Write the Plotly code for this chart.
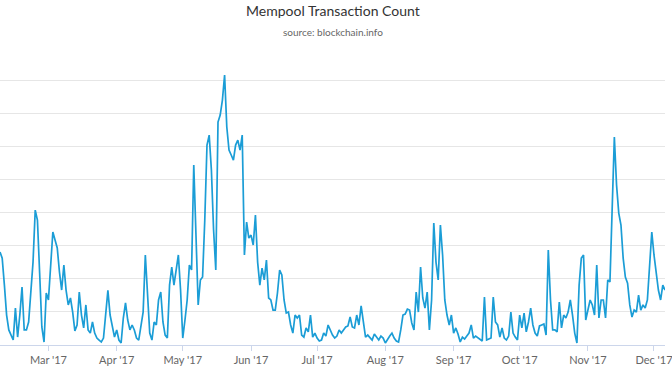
import pandas as pd
import plotly.graph_objects as go

# Mempool transaction count (thousands), one reading per day from 2017-02-07
start_date = "2017-02-07"
mempool_k = [
    56.2, 52.5, 36.2, 18.1, 9.1, 5.4, 3.0, 22.3, 4.8, 18.1,
    35.0, 9.1, 9.1, 13.9, 32.0, 50.1, 81.5, 75.5, 43.5, 10.9,
    1.8, 31.4, 27.2, 48.3, 68.3, 63.4, 58.6, 44.1, 33.2, 48.3,
    33.2, 24.2, 28.4, 19.9, 8.5, 12.1, 32.0, 18.1, 10.3, 24.2,
    9.1, 7.2, 13.9, 7.2, 4.2, 3.0, 1.8, 4.2, 18.1, 33.0,
    18.1, 12.1, 4.8, 9.1, 3.0, 1.2, 16.3, 25.4, 15.1, 9.1,
    12.1, 9.1, 4.2, 3.0, 10.3, 19.9, 54.4, 30.2, 7.2, 3.0,
    13.9, 12.1, 27.2, 32.0, 13.9, 6.0, 4.2, 36.2, 47.1, 36.2,
    45.3, 54.4, 33.2, 4.2, 15.1, 27.2, 48.3, 45.3, 108.7, 59.2,
    24.2, 39.3, 41.1, 75.5, 120.8, 126.8, 105.7, 69.5, 45.3, 134.7,
    138.9, 148.0, 163.1, 131.7, 117.8, 114.8, 111.7, 120.8, 123.8, 117.8,
    126.8, 54.4, 74.3, 64.6, 66.4, 60.4, 78.5, 50.1, 36.2, 46.5,
    39.3, 51.3, 28.4, 27.2, 21.1, 21.1, 31.4, 45.3, 42.3, 27.2,
    19.3, 19.9, 12.1, 7.2, 18.1, 16.3, 18.1, 6.0, 4.8, 10.3,
    7.9, 18.1, 4.8, 7.2, 4.2, 2.4, 3.0, 7.2, 5.4, 12.1,
    9.1, 6.0, 4.2, 5.4, 9.1, 7.2, 9.1, 10.9, 11.5, 16.9,
    10.9, 10.3, 18.1, 12.1, 23.6, 15.1, 4.8, 6.0, 4.8, 3.0,
    6.6, 4.8, 3.0, 5.4, 4.2, 1.2, 3.6, 5.4, 7.2, 4.2,
    2.4, 1.8, 9.1, 18.1, 18.7, 21.7, 21.1, 13.3, 9.1, 32.0,
    19.9, 47.1, 28.4, 22.3, 32.0, 9.1, 27.2, 73.7, 50.1, 39.3,
    72.5, 54.4, 27.2, 18.1, 12.1, 18.1, 7.2, 10.3, 6.6, 1.8,
    4.8, 3.6, 5.4, 7.2, 12.1, 4.2, 5.4, 4.2, 3.0, 2.4,
    29.0, 3.0, 3.6, 4.2, 29.0, 13.9, 12.1, 4.8, 10.3, 4.2,
    3.0, 5.4, 19.9, 7.2, 4.8, 3.0, 18.1, 10.3, 19.3, 7.9,
    13.9, 22.3, 12.1, 7.2, 5.4, 11.5, 12.1, 12.7, 6.0, 57.4,
    27.2, 9.1, 9.1, 7.9, 26.0, 10.3, 18.1, 16.3, 19.9, 27.2,
    18.1, 7.2, 1.2, 36.2, 52.5, 54.4, 15.1, 21.1, 27.2, 24.2,
    18.1, 48.3, 16.3, 27.2, 27.2, 16.3, 39.3, 38.1, 87.6, 125.6,
    96.6, 79.7, 72.5, 52.5, 41.1, 37.4, 24.2, 16.9, 21.1, 19.9,
    30.2, 21.1, 24.2, 22.3, 27.2, 51.3, 68.3, 54.4, 42.3, 33.2,
    27.2, 36.2, 33.2,
]

month_ticks = ["2017-03-01", "2017-04-01", "2017-05-01", "2017-06-01", "2017-07-01",
               "2017-08-01", "2017-09-01", "2017-10-01", "2017-11-01", "2017-12-01"]
month_labels = ["Mar '17", "Apr '17", "May '17", "Jun '17", "Jul '17",
                "Aug '17", "Sep '17", "Oct '17", "Nov '17", "Dec '17"]

title_text = "Mempool Transaction Count"
subtitle_text = "source: blockchain.info"

dates = pd.date_range(start_date, periods=len(mempool_k), freq="D")

W, H = 672, 372
M_T, M_B = 47, 27

fig = go.Figure()
fig.add_trace(go.Scatter(
    x=dates, y=mempool_k, mode="lines",
    line=dict(color="#1b9dd6", width=1.7),
    hoverinfo="skip", showlegend=False,
))

plot_h = H - M_T - M_B
fig.update_layout(
    width=W, height=H,
    margin=dict(l=0, r=0, t=M_T, b=M_B, pad=0),
    paper_bgcolor="white", plot_bgcolor="white",
    font=dict(family="Lato, Open Sans, sans-serif"),
    xaxis=dict(
        range=["2017-02-07", "2017-12-06"],
        tickmode="array", tickvals=month_ticks, ticktext=month_labels,
        tickfont=dict(size=11, color="#666666"),
        ticklabeloverflow="allow",
        showgrid=False, showline=True, linecolor="#ccd6eb", linewidth=1,
        ticks="outside", ticklen=5, tickcolor="#ccd6eb", tickwidth=1,
        zeroline=False, fixedrange=True,
    ),
    yaxis=dict(
        range=[0, 180.05], dtick=20, tick0=0,
        showticklabels=False, showgrid=True, gridcolor="#e6e6e6", gridwidth=1,
        zeroline=False, showline=False, ticks="", fixedrange=True,
    ),
    annotations=[
        dict(text=title_text, x=0.5, y=(H - M_B - 11) / plot_h, yanchor="middle",
             xref="paper", yref="paper", showarrow=False,
             font=dict(size=14, color="#333333")),
        dict(text=subtitle_text, x=0.5, y=(H - M_B - 32) / plot_h, yanchor="middle",
             xref="paper", yref="paper", showarrow=False,
             font=dict(size=10, color="#666666")),
    ],
)

fig.write_html(
    "out.html",
    config={"displayModeBar": False, "staticPlot": True},
    post_script="document.body.style.margin='0';document.body.style.padding='0';",
)
